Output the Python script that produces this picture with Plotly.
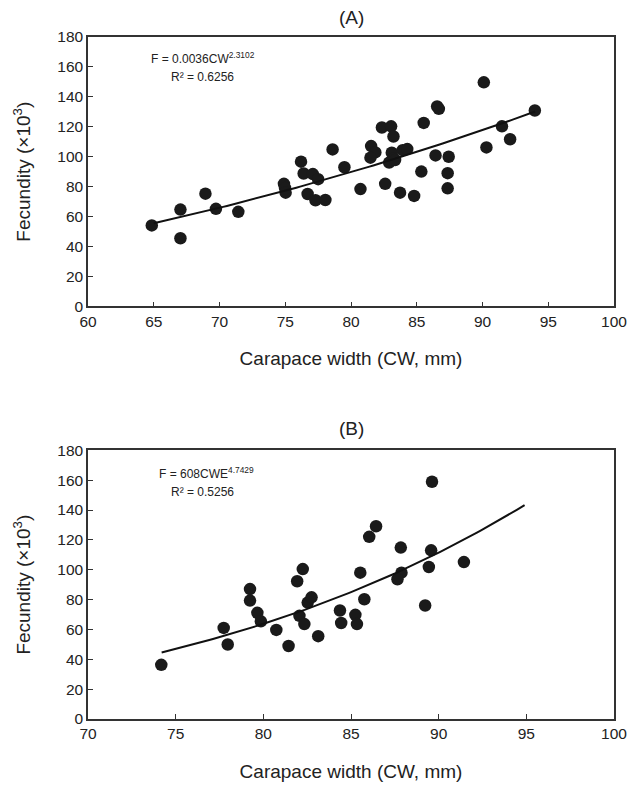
import numpy as np
import plotly.graph_objects as go

# Panel A data
cw_a = [64.85, 67.03, 67.03, 68.93, 69.73, 71.43, 74.9, 74.98, 75.03, 76.2, 76.4, 77.1, 77.5,
        76.7, 77.3, 78.05, 78.6, 79.5, 80.72, 81.53, 81.85, 81.48, 82.35, 83.05, 83.23, 83.1,
        83.23, 82.9, 83.35, 83.93, 84.28, 82.6, 83.73, 84.8, 85.35, 85.53, 86.43, 86.55, 86.68,
        87.43, 87.35, 87.35, 90.1, 90.3, 91.48, 92.1, 93.98]
fec_a = [54.1, 64.7, 45.5, 75.3, 65.2, 63.2, 81.9, 79.1, 76.0, 96.7, 88.8, 88.4, 85.0,
         75.1, 70.9, 71.1, 104.9, 93.0, 78.4, 107.1, 102.9, 99.4, 119.5, 120.3, 113.5, 102.7,
         98.9, 96.1, 97.8, 104.4, 105.1, 81.9, 76.0, 73.8, 90.1, 122.6, 100.9, 133.6, 132.0,
         100.0, 89.0, 78.9, 149.7, 106.2, 120.3, 111.7, 130.9]

# Panel B data
cw_b = [74.18, 77.74, 77.97, 79.24, 79.24, 79.66, 79.86, 80.74, 81.44, 81.93, 82.25, 82.06,
        82.34, 82.53, 82.75, 83.13, 84.37, 84.44, 85.25, 85.34, 85.76, 85.53, 86.04, 86.43,
        87.84, 87.88, 87.65, 89.57, 89.44, 89.23, 89.62, 91.44]
fec_b = [36.3, 61.0, 49.9, 87.0, 79.3, 71.1, 65.4, 59.7, 48.9, 92.3, 100.4, 69.1,
         63.6, 78.0, 81.5, 55.5, 72.7, 64.3, 69.8, 63.6, 80.2, 98.0, 122.0, 129.1,
         114.8, 98.0, 93.6, 113.0, 101.8, 76.0, 158.9, 105.1]

# Fitted power curves (coefficient, exponent, x range)
fit_a = {"a": 0.0036, "b": 2.3102, "x0": 65.0, "x1": 94.0}
fit_b = {"a": 6.0e-8, "b": 4.7429, "x0": 74.2, "x1": 94.9}

xa = np.linspace(fit_a["x0"], fit_a["x1"], 100)
ya = fit_a["a"] * xa ** fit_a["b"]
xb = np.linspace(fit_b["x0"], fit_b["x1"], 100)
yb = fit_b["a"] * xb ** fit_b["b"]

FONT = "Liberation Sans, Arial, sans-serif"
TXT = "#222222"
MK = dict(size=12.5, color="#1a1a1a")

fig = go.Figure()
fig.add_trace(go.Scatter(x=cw_a, y=fec_a, mode="markers", marker=MK, xaxis="x", yaxis="y", showlegend=False))
fig.add_trace(go.Scatter(x=xa, y=ya, mode="lines", line=dict(color="#111111", width=2), xaxis="x", yaxis="y", showlegend=False))
fig.add_trace(go.Scatter(x=cw_b, y=fec_b, mode="markers", marker=MK, xaxis="x2", yaxis="y2", showlegend=False))
fig.add_trace(go.Scatter(x=xb, y=yb, mode="lines", line=dict(color="#111111", width=2), xaxis="x2", yaxis="y2", showlegend=False))

axis_common = dict(
    showline=True, linecolor="#333333", linewidth=1.5, mirror=True,
    ticks="inside", ticklen=5, tickwidth=1, tickcolor="#333333",
    showgrid=False, zeroline=False,
    tickfont=dict(family=FONT, size=15.5, color=TXT),
)
xtitle = dict(text="Carapace width (CW, mm)", font=dict(family=FONT, size=19, color=TXT), standoff=23)
ytitle = dict(text="Fecundity (×10<sup>3</sup>)", font=dict(family=FONT, size=19, color=TXT), standoff=22)

ann_font = dict(family=FONT, size=12, color=TXT)

fig.update_layout(
    width=639, height=791,
    margin=dict(l=88, r=19, t=37, b=64),
    paper_bgcolor="white", plot_bgcolor="white",
    xaxis=dict(domain=[0, 1], range=[60, 100], dtick=5, anchor="y", title=xtitle, **axis_common),
    yaxis=dict(domain=[0.605, 1], range=[0, 180], dtick=20, anchor="x", title=ytitle, **axis_common),
    xaxis2=dict(domain=[0, 1], range=[70, 100], dtick=5, anchor="y2", title=xtitle, **axis_common),
    yaxis2=dict(domain=[0, 0.394], range=[0, 180], dtick=20, anchor="x2", title=ytitle, **axis_common),
    annotations=[
        dict(text="(A)", xref="x domain", yref="y domain", x=0.5, y=1.0, xanchor="center",
             yanchor="bottom", yshift=7, showarrow=False, font=dict(family=FONT, size=19, color=TXT)),
        dict(text="(B)", xref="x2 domain", yref="y2 domain", x=0.5, y=1.0, xanchor="center",
             yanchor="bottom", yshift=9, showarrow=False, font=dict(family=FONT, size=19, color=TXT)),
        dict(text="F = 0.0036CW<sup>2.3102</sup>", xref="x domain", yref="y domain",
             x=0.219, y=0.886, xanchor="center", yanchor="bottom", showarrow=False, font=ann_font),
        dict(text="R² = 0.6256", xref="x domain", yref="y domain",
             x=0.218, y=0.886, xanchor="center", yanchor="top", showarrow=False, font=ann_font),
        dict(text="F = 608CWE<sup>4.7429</sup>", xref="x2 domain", yref="y2 domain",
             x=0.226, y=0.879, xanchor="center", yanchor="bottom", showarrow=False, font=ann_font),
        dict(text="R² = 0.5256", xref="x2 domain", yref="y2 domain",
             x=0.218, y=0.879, xanchor="center", yanchor="top", showarrow=False, font=ann_font),
    ],
)

fig.write_html("out.html", config={"displayModeBar": False},
               post_script="document.body.style.margin='0';")
